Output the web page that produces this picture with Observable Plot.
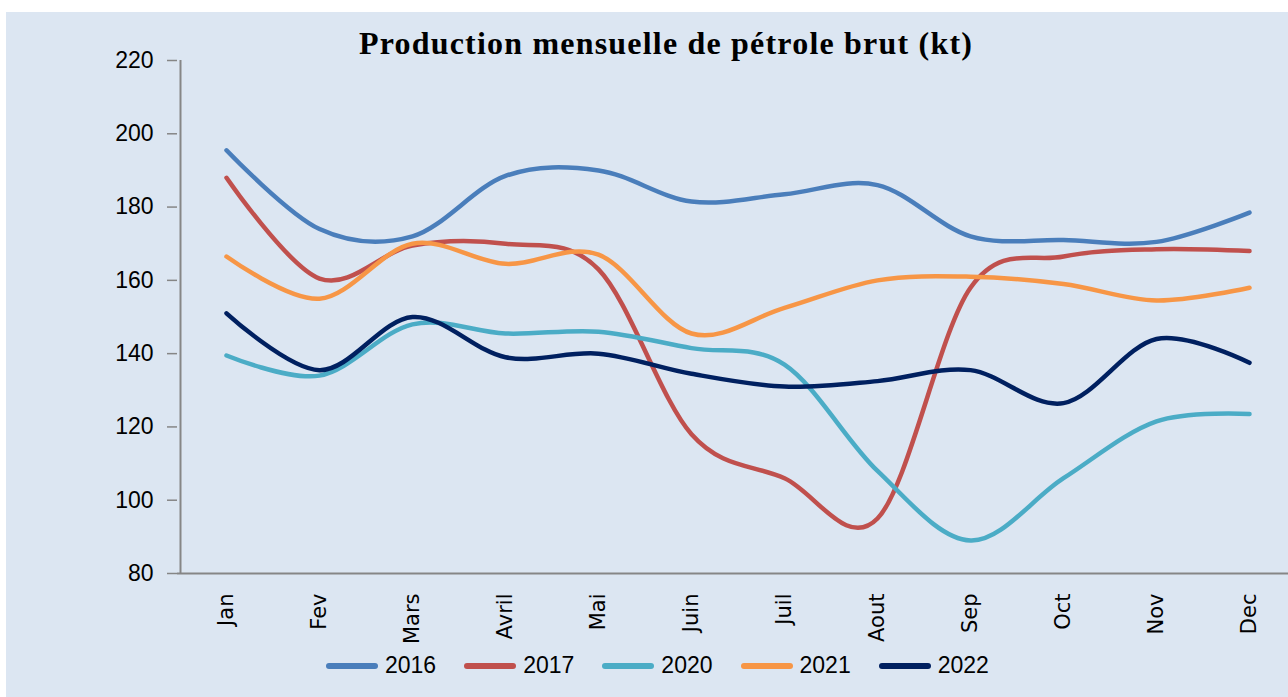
<!DOCTYPE html>
<html>
<head>
<meta charset="utf-8">
<script src="https://cdn.jsdelivr.net/npm/d3@7"></script>
<script src="https://cdn.jsdelivr.net/npm/@observablehq/plot@0.6"></script>
<style>
  html, body { margin: 0; padding: 0; background: #ffffff; }
  #wrap { position: relative; width: 1288px; height: 697px; overflow: hidden; }
  #panel { position: absolute; left: 6px; top: 12px; right: 0; bottom: 0; background: #dce6f2; }
  #chart { position: absolute; left: 0; top: 0; }
  #title { position: absolute; left: 0; width: 1332px; top: 25px; text-align: center; letter-spacing: 1.2px;
           font-family: "Liberation Serif", serif; font-weight: bold; font-size: 32px; color: #000; }
  #legend { position: absolute; left: 326px; top: 652px; display: flex; align-items: center;
            font-family: "Liberation Sans", sans-serif; font-size: 23px; color: #000; }
  .item { display: flex; align-items: center; margin-right: 28px; }
  .swatch { width: 52px; height: 6px; border-radius: 3px; margin-right: 7px; }
</style>
</head>
<body>
<div id="wrap">
  <div id="panel"></div>
  <div id="chart"></div>
  <div id="title">Production mensuelle de pétrole brut (kt)</div>
  <div id="legend"></div>
</div>
<script>
const months = ["Jan", "Fev", "Mars", "Avril", "Mai", "Juin", "Juil", "Aout", "Sep", "Oct", "Nov", "Dec"];
const years = ["2016", "2017", "2020", "2021", "2022"];
const v2016 = [195.5, 174, 172, 188.5, 190, 181.5, 183.5, 186, 172, 171, 170.5, 178.5];
const v2017 = [188, 160.5, 169.5, 170, 163, 118, 106, 95, 158, 166.5, 168.5, 168];
const v2020 = [139.5, 134, 148, 145.5, 146, 141.5, 137, 108, 89, 106, 121.5, 123.5];
const v2021 = [166.5, 155, 170, 164.5, 167, 145.5, 152.5, 160, 161, 159, 154.5, 158];
const v2022 = [151, 135.5, 150, 139, 140, 134.5, 131, 132.5, 135.5, 126.5, 144, 137.5];
const yTicks = [80, 100, 120, 140, 160, 180, 200, 220];
const colors = ["#4a7ebb", "#c0504d", "#4bacc6", "#f79646", "#002060"];

const series = [v2016, v2017, v2020, v2021, v2022];
const data = years.flatMap((y, i) => series[i].map((v, j) => ({year: y, month: months[j], value: v})));

const chart = Plot.plot({
  width: 1288,
  height: 697,
  marginTop: 60,
  marginBottom: 124,
  marginLeft: 177,
  marginRight: 0,
  style: {background: "transparent", color: "#000"},
  x: {type: "point", domain: months, range: [223, 1252], padding: 0, label: null},
  y: {domain: [80, 220], label: null},
  color: {domain: years, range: colors},
  marks: [
    Plot.ruleY([80], {stroke: "#868686", strokeWidth: 2}),
    Plot.ruleX(["Jan"], {dx: -46, stroke: "#868686", strokeWidth: 2}),
    Plot.axisY({ticks: yTicks, tickSize: 10, tickPadding: 14, stroke: "#868686", strokeWidth: 1.5,
                fontSize: 23, fontFamily: "Liberation Sans", label: null}),
    Plot.axisX({tickSize: 0, tickRotate: -90, tickPadding: 20, fontSize: 21,
                fontFamily: "DejaVu Sans", label: null}),
    Plot.line(data, {x: "month", y: "value", z: "year", stroke: "year", strokeWidth: 4.5,
                     curve: "cardinal", tension: 0, strokeLinecap: "round", strokeLinejoin: "round"})
  ]
});
document.getElementById("chart").appendChild(chart);

const legend = document.getElementById("legend");
years.forEach((y, i) => {
  const item = document.createElement("div");
  item.className = "item";
  const sw = document.createElement("span");
  sw.className = "swatch";
  sw.style.background = colors[i];
  const t = document.createElement("span");
  t.textContent = y;
  item.appendChild(sw);
  item.appendChild(t);
  legend.appendChild(item);
});
</script>
</body>
</html>
